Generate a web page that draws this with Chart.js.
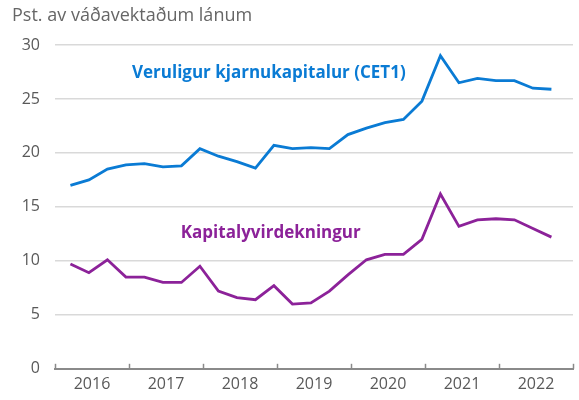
<!DOCTYPE html>
<html>
<head>
<meta charset="utf-8">
<script src="https://cdn.jsdelivr.net/npm/chart.js@4"></script>
<style>
  html, body { margin: 0; padding: 0; background: #fff; }
  #wrap { width: 579px; height: 400px; }
</style>
</head>
<body>
<div id="wrap"><canvas id="line-chart"></canvas></div>
<script>
// quarters 2016Q1 .. 2022Q3
const quarters = ['2016Q1','2016Q2','2016Q3','2016Q4','2017Q1','2017Q2','2017Q3','2017Q4',
  '2018Q1','2018Q2','2018Q3','2018Q4','2019Q1','2019Q2','2019Q3','2019Q4',
  '2020Q1','2020Q2','2020Q3','2020Q4','2021Q1','2021Q2','2021Q3','2021Q4',
  '2022Q1','2022Q2','2022Q3'];
const cet1 = [17.0, 17.5, 18.5, 18.9, 19.0, 18.7, 18.8, 20.4, 19.7, 19.2, 18.6, 20.7, 20.4, 20.5,
  20.4, 21.7, 22.3, 22.8, 23.1, 24.8, 29.0, 26.5, 26.9, 26.7, 26.7, 26.0, 25.9];
const capital = [9.7, 8.9, 10.1, 8.5, 8.5, 8.0, 8.0, 9.5, 7.2, 6.6, 6.4, 7.7, 6.0, 6.1,
  7.2, 8.7, 10.1, 10.6, 10.6, 12.0, 16.2, 13.2, 13.8, 13.9, 13.8, 13.0, 12.2];
const yTicks = [0, 5, 10, 15, 20, 25, 30];
const years = [2016, 2017, 2018, 2019, 2020, 2021, 2022];

// quarter end month, plotted mid-month on a time-like axis
function qx(q) {
    const y = parseInt(q.slice(0, 4));
    const n = parseInt(q.slice(5));
    return y + (3 * n - 0.5) / 12;
}
const pts = arr => arr.map((v, i) => ({x: qx(quarters[i]), y: v}));

const BLUE = '#0a7bd4';
const PURPLE = '#8c2299';
const GREY = '#595959';

const extras = {
    id: 'extras',
    afterDraw(chart) {
        const {ctx, scales: {x, y}} = chart;
        ctx.save();
        // title
        ctx.fillStyle = '#666';
        ctx.font = '18px "Open Sans"';
        ctx.textBaseline = 'middle';
        ctx.textAlign = 'left';
        ctx.fillText('Pst. av váðavektaðum lánum', 12, 16);
        // year tick marks pointing up
        ctx.strokeStyle = '#8a8a8a';
        ctx.lineWidth = 1.5;
        const base = y.getPixelForValue(0);
        for (let v = years[0]; v <= years[years.length - 1] + 1; v++) {
            const px = Math.round(x.getPixelForValue(v)) + 0.5;
            ctx.beginPath();
            ctx.moveTo(px, base);
            ctx.lineTo(px, base - 5);
            ctx.stroke();
        }
        // series labels
        ctx.font = 'bold 17px "Open Sans"';
        ctx.fillStyle = BLUE;
        ctx.fillText('Veruligur kjarnukapitalur (CET1)', x.getPixelForValue(2017.04), y.getPixelForValue(27.4));
        ctx.fillStyle = PURPLE;
        ctx.fillText('Kapitalyvirdekningur', x.getPixelForValue(2017.70), y.getPixelForValue(12.6));
        ctx.restore();
    }
};

new Chart(document.getElementById('line-chart'), {
    type: 'line',
    data: {
        datasets: [{
            label: 'Veruligur kjarnukapitalur (CET1)',
            data: pts(cet1),
            borderColor: BLUE,
            borderWidth: 2.8,
            pointRadius: 0,
            tension: 0,
            fill: false
        }, {
            label: 'Kapitalyvirdekningur',
            data: pts(capital),
            borderColor: PURPLE,
            borderWidth: 2.8,
            pointRadius: 0,
            tension: 0,
            fill: false
        }]
    },
    options: {
        responsive: true,
        maintainAspectRatio: false,
        animation: false,
        layout: { padding: { top: 45, right: 3, bottom: 0, left: 0 } },
        plugins: {
            legend: { display: false },
            tooltip: { enabled: false },
            title: { display: false }
        },
        scales: {
            x: {
                type: 'linear',
                min: years[0],
                max: years[years.length - 1] + 1,
                grid: { drawOnChartArea: false, drawTicks: false },
                border: { color: '#8a8a8a', width: 2 },
                ticks: {
                    stepSize: 0.5,
                    autoSkip: false,
                    maxRotation: 0,
                    padding: 6,
                    color: GREY,
                    font: { family: 'Open Sans', size: 16 },
                    callback: v => (v % 1 === 0.5 ? String(Math.floor(v)) : '')
                }
            },
            y: {
                min: yTicks[0],
                max: yTicks[yTicks.length - 1],
                afterFit: s => { s.width = 55; },
                afterBuildTicks: s => { s.ticks = yTicks.map(v => ({value: v})); },
                grid: {
                    drawTicks: false,
                    color: c => (c.tick.value === 0 ? 'rgba(0,0,0,0)' : '#d9d9d9'),
                    lineWidth: 1.5
                },
                border: { display: false },
                ticks: {
                    padding: 15,
                    color: GREY,
                    font: { family: 'Open Sans', size: 16 }
                }
            }
        }
    },
    plugins: [extras]
});
</script>
</body>
</html>
